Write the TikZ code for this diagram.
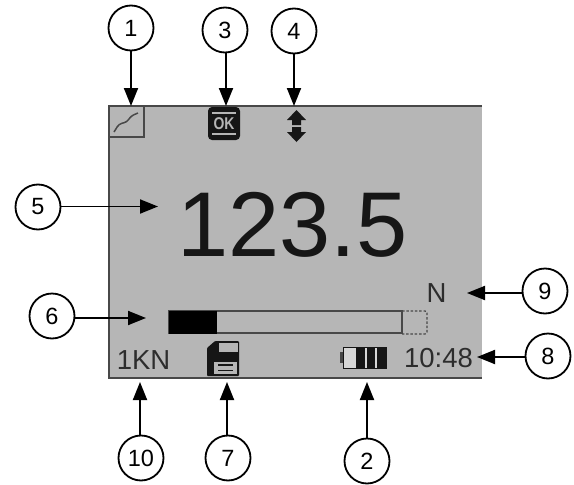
\documentclass[tikz,border=0pt]{standalone}
\usepackage{fontspec}
\setmainfont{Liberation Sans}
\usetikzlibrary{arrows.meta}
\definecolor{lcd}{RGB}{182,182,182}
\definecolor{lcdline}{RGB}{72,72,72}
\definecolor{ink}{RGB}{22,22,22}
\definecolor{lcdtxt}{RGB}{45,45,45}
\tikzset{
  callout/.style={circle,draw=black,line width=1.8pt,fill=white,minimum size=45pt,inner sep=0pt,font=\fontsize{23.5}{23.5}\selectfont},
  pointer/.style={line width=1.9pt,-{Triangle[length=18pt,width=14pt]}},
  lcdtext/.style={text=lcdtxt,inner sep=0pt,anchor=base,font=\fontsize{27.5}{27.5}\selectfont},
}
\begin{document}
\begin{tikzpicture}[x=1pt,y=-1pt]
\useasboundingbox (0,0) rectangle (574,485);
\node[fill=lcd,minimum width=373pt,minimum height=272pt,inner sep=0pt] (screen) at (295.5,242) {};
\draw[lcdline,line width=1.6pt] (screen.north east) -- (screen.north west) -- (screen.south west) -- (screen.south east);
\node[draw=lcdline,line width=1.4pt,minimum width=35pt,minimum height=31pt,inner sep=0pt] (trendbox) at (126.5,121.5) {};
\draw[lcdline,line width=1.5pt,rounded corners=3pt] (114,132) -- (119,124) -- (127,122) -- (131,116) -- (138,113);
\node[fill=ink,rounded corners=4pt,minimum width=32pt,minimum height=33pt,inner sep=0pt] (okbox) at (224,123.5) {};
\node[text=lcd,inner sep=0pt,font=\bfseries\fontsize{17}{17}\selectfont,xscale=.82] (oktext) at (224,123.5) {OK};
\draw[lcd,line width=1.1pt] (212,113) -- (236,113) (212,134) -- (236,134);
\coordinate (updown) at (296.5,126);
\fill[ink] (296.5,110) -- (306,120) -- (301,120) -- (301,125) -- (292,125) -- (292,120) -- (287,120) -- cycle;
\fill[ink] (296.5,142) -- (306,132) -- (301,132) -- (301,127) -- (292,127) -- (292,132) -- (287,132) -- cycle;
\node[text=ink,draw=none,inner sep=0pt,anchor=base,font=\fontsize{92}{92}\selectfont] (value) at (292.5,256) {123.5};
\node[draw=lcdline,line width=1.6pt,fill=lcd,minimum width=233pt,minimum height=22pt,inner sep=0pt] (bar) at (285.5,322) {};
\node[fill=black,minimum width=48pt,minimum height=23pt,inner sep=0pt] (barfill) at (193,322) {};
\draw[lcdline,line width=1.2pt,dash pattern=on 2.5pt off 1.8pt,rounded corners=2pt] (402,311) -- (427,311) -- (427,334) -- (402,334);
\node[lcdtext] (unit) at (436.5,302.5) {N};
\node[lcdtext] (range) at (143.5,369) {1KN};
\node[lcdtext] (clock) at (438.5,367.5) {10:48};
% floppy icon
\fill[ink,rounded corners=1pt] (207,348) -- (215,341) -- (239,341) -- (239,376) -- (207,376) -- cycle;
\node[fill=lcd,minimum width=19pt,minimum height=9pt,inner sep=0pt] (flopa) at (228,347.5) {};
\node[fill=lcd,minimum width=23pt,minimum height=12pt,inner sep=0pt] (flopb) at (225,368) {};
\draw[ink,line width=1.4pt] (218,365) -- (233,365) (218,370.5) -- (233,370.5);
% battery icon
\fill[lcdline] (340,352) rectangle (343,363);
\node[draw=ink,line width=1.6pt,fill=white!45!lcd,minimum width=43pt,minimum height=21pt,inner sep=0pt] (batt) at (365,358) {};
\fill[ink] (356,348) rectangle (365,368);
\fill[ink] (366.5,348) rectangle (375,368);
\fill[ink] (376.5,348) rectangle (386,368);
% callouts
\node[callout] (c1) at (131,28) {1};
\node[callout] (c3) at (225,30) {3};
\node[callout] (c4) at (294,31) {4};
\node[callout] (c5) at (38,207) {5};
\node[callout] (c6) at (52,316) {6};
\node[callout] (c9) at (545,291) {9};
\node[callout] (c8) at (548,356) {8};
\node[callout] (c2) at (367,461) {2};
\node[callout] (c7) at (228,458) {7};
\node[callout] (c10) at (141,458) {10};
\coordinate (t1) at (131,106);
\coordinate (t3) at (226,106);
\coordinate (t4) at (294,106);
\coordinate (t5) at (158,206.5);
\coordinate (t6) at (146,318);
\coordinate (t9) at (467,293);
\coordinate (t8) at (477,357);
\coordinate (t2) at (367,382);
\coordinate (t7) at (227,382);
\coordinate (t10) at (140,382);
\draw[pointer] (c1.south -| t1) -- (t1);
\draw[pointer] (c3.south -| t3) -- (t3);
\draw[pointer] (c4.south -| t4) -- (t4);
\draw[pointer] (c5.east |- t5) -- (t5);
\draw[pointer] (c6.east |- t6) -- (t6);
\draw[pointer] (c9.west |- t9) -- (t9);
\draw[pointer] (c8.west |- t8) -- (t8);
\draw[pointer] (c2.north -| t2) -- (t2);
\draw[pointer] (c7.north -| t7) -- (t7);
\draw[pointer] (c10.north -| t10) -- (t10);
\end{tikzpicture}
\end{document}
